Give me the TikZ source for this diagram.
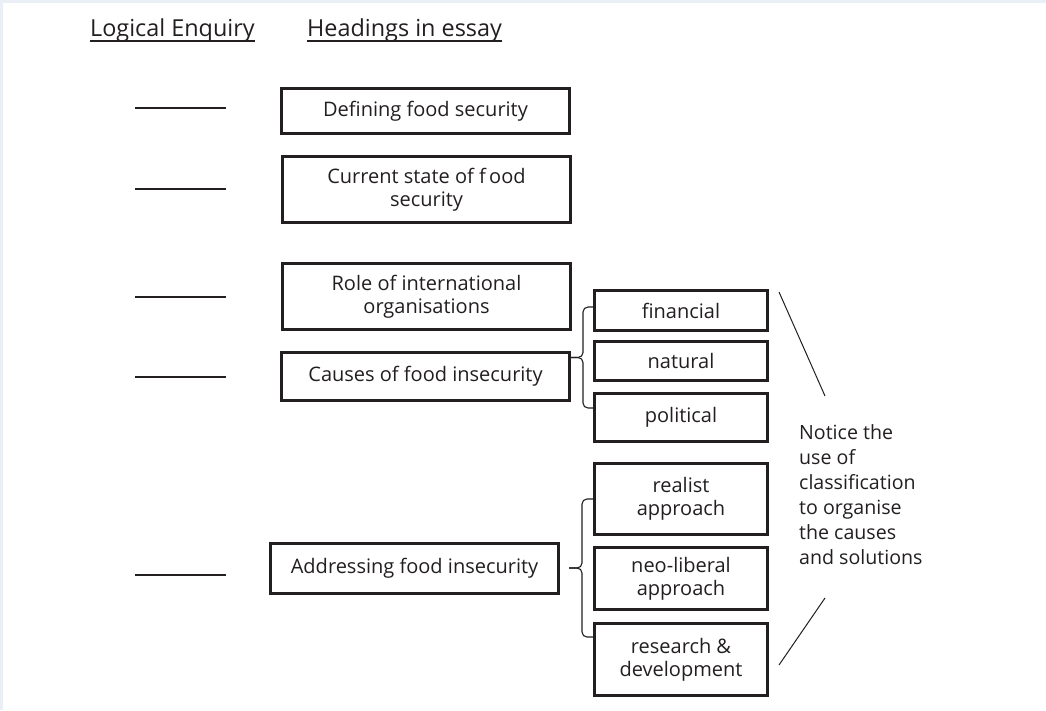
\documentclass[tikz,border=0pt]{standalone}
\usepackage{fontspec}
\setmainfont{Open Sans}
\usetikzlibrary{positioning}

\definecolor{ink}{HTML}{231F20}
\definecolor{frame}{HTML}{E9EFF5}

\tikzset{
  heading/.style={draw=ink, text=ink, line width=2.6pt, minimum width=288.4pt,
                  align=center, font=\fontsize{20}{23.3}\selectfont},
  subhead/.style={heading, minimum width=173.4pt},
  blank/.style={ink, line width=2.3pt},
  brace/.style={ink, line width=1.1pt, rounded corners=5pt},
  title/.style={text=ink, inner sep=0pt, anchor=base west, font=\fontsize{23.4}{28}\selectfont},
}

\begin{document}
\begin{tikzpicture}[x=1pt,y=-1pt,node distance=8pt]
  \fill[frame] (0,0) rectangle (1046,710);
  \fill[white] (3,3) rectangle (1046,710);
  \useasboundingbox (0,0) rectangle (1046,710);

  % column titles
  \node[title] (enq) at (90,36) {Logical Enquiry};
  \node[title] (ess) at (307,36) {Headings in essay};
  \draw[ink, line width=1.8pt] ([yshift=-5pt]enq.base west) -- ([yshift=-5pt]enq.base east);
  \draw[ink, line width=1.8pt] ([yshift=-5pt]ess.base west) -- ([yshift=-5pt]ess.base east);

  \foreach \y in {108,189,297,377,575}
    \draw[blank] (135,\y) -- (226,\y);

  % headings
  \node[heading, minimum height=45.4pt] (def) at (425.5,111) {Defining food security};
  \node[heading, minimum height=66.4pt] (cur) at (426.5,189.5) {Current state of f\,ood\\security};
  \node[heading, minimum height=66.4pt] (role) at (426.5,296.5) {Role of international\\organisations};
  \node[heading, minimum height=48.4pt] (cause) at (425.5,376.5) {Causes of food insecurity};
  \node[heading, minimum height=50.4pt] (addr) at (414.5,568.5) {Addressing food insecurity};

  % causes
  \node[subhead, minimum height=40.4pt] (fin) at (681,310.5) {financial};
  \node[subhead, minimum height=39.4pt, below=8pt of fin] (nat) {natural};
  \node[subhead, minimum height=48.4pt, below=10pt of nat] (pol) {political};

  % solutions
  \node[subhead, minimum height=71.4pt, below=19pt of pol] (real) {realist\\approach};
  \node[subhead, minimum height=62.4pt, below=10pt of real] (neo) {neo-liberal\\approach};
  \node[subhead, minimum height=72.4pt, below=11pt of neo] (rd) {research \&\\development};

  \draw[brace] ([yshift=3.5pt]fin.west) -| ++(-10,50.5) -- ++(-12,0);
  \draw[brace] ([yshift=9.5pt]pol.west) -| ++(-10,-50.5) -- ++(-12,0);
  \draw[brace] (real.west) -| ++(-11,69) -- ++(-13,0);
  \draw[brace] ([yshift=22.5pt]rd.west) -| ++(-11,-69) -- ++(-13,0);

  % note
  \node[text=ink, inner sep=0pt, anchor=west, align=left,
        font=\fontsize{19.6}{25}\selectfont] (note) at (799,495)
    {Notice the\\use of\\classification\\to organise\\the causes\\and solutions};
  \coordinate (up) at (779,292);
  \coordinate (dn) at (779,665);
  \draw[ink, line width=1pt] (up) -- (825,396);
  \draw[ink, line width=1pt] (dn) -- (825,598);
\end{tikzpicture}
\end{document}
